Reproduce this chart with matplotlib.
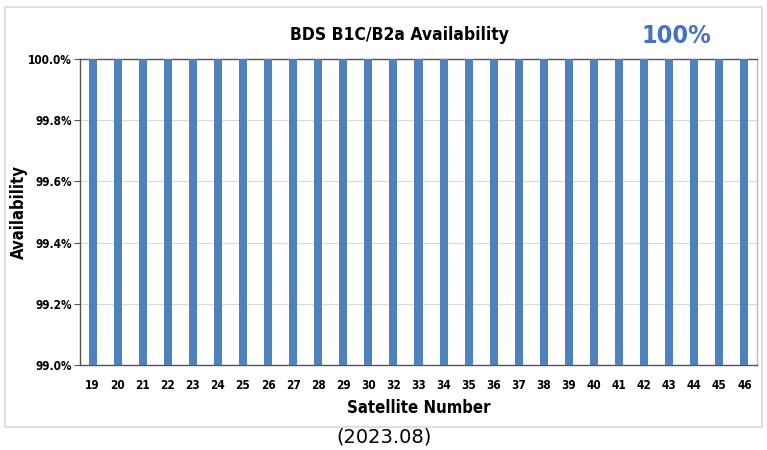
import matplotlib.pyplot as plt
from matplotlib.patches import Rectangle
from matplotlib.ticker import FuncFormatter

# satellites and their availability (%)
sats = ['19', '20', '21', '22', '23', '24', '25', '26', '27', '28', '29', '30', '32', '33',
        '34', '35', '36', '37', '38', '39', '40', '41', '42', '43', '44', '45', '46']
avail = [100.0] * len(sats)
yticks = [99.0, 99.2, 99.4, 99.6, 99.8, 100.0]

plt.rcParams['font.family'] = ['DejaVu Sans']
plt.rcParams['font.stretch'] = 'condensed'

fig = plt.figure(figsize=(7.67, 4.5), dpi=100)
ax = fig.add_axes([80/767, 1-365/450, (757-80)/767, (365-59)/450])

x = range(len(sats))
ax.bar(x, avail, width=0.32, color='#4F81BD', zorder=3)
ax.set_xlim(-0.5, len(sats) - 0.5)
ax.set_ylim(99.0, 100.0)
ax.set_yticks(yticks)
ax.yaxis.set_major_formatter(FuncFormatter(lambda v, p: '%.1f%%' % v))
ax.set_xticks(list(x))
ax.set_xticklabels(sats)
ax.tick_params(axis='x', length=0, pad=10, labelsize=8.5)
ax.tick_params(axis='y', length=4, direction='out', pad=2, labelsize=8.5, color='#555555')
for lab in ax.get_xticklabels() + ax.get_yticklabels():
    lab.set_fontweight('bold')
ax.grid(axis='y', color='#d9d9d9', linewidth=0.8, zorder=0)
for s in ax.spines.values():
    s.set_color('#555555')
    s.set_linewidth(1.0)
ax.spines['right'].set_color('#bbbbbb')

ax.set_xlabel('Satellite Number', fontsize=12, fontweight='bold', labelpad=5)
ax.set_ylabel('Availability', fontsize=12, fontweight='bold')
ax.yaxis.set_label_coords(-0.077, 0.5)

fig.text(399/767, 1-35/450, 'BDS B1C/B2a Availability', ha='center', va='center',
         fontsize=12.5, fontweight='bold')
fig.text(676/767, 1-36/450, '100%', ha='center', va='center',
         fontsize=18, fontweight='heavy', color='#4472C4')
fig.text(384/767, 1-437/450, '(2023.08)', ha='center', va='center', fontsize=14,
         stretch='normal')

fig.patches.append(Rectangle((5/767, 1-427/450), 757/767, 420/450, transform=fig.transFigure,
                             fill=False, edgecolor='#d9d9d9', linewidth=1.2))

fig.savefig('out.png', dpi=100)
